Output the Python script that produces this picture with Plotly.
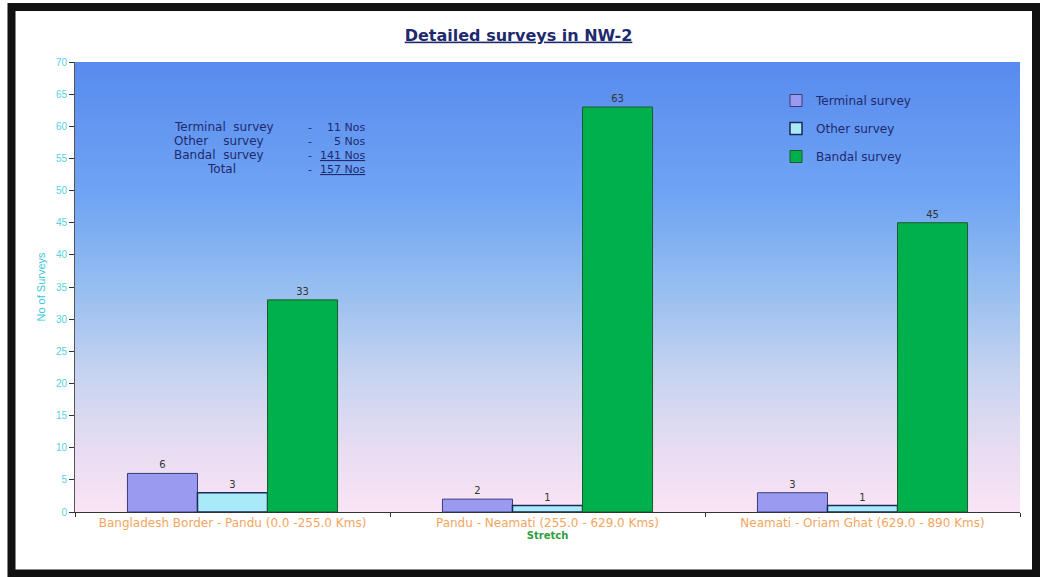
import base64
import struct
import zlib

import plotly.graph_objects as go

# ---------------- data ----------------
stretches = [
    "Bangladesh Border - Pandu (0.0 -255.0 Kms)",
    "Pandu - Neamati (255.0 - 629.0 Kms)",
    "Neamati - Oriam Ghat (629.0 - 890 Kms)",
]
terminal_survey = [6, 2, 3]
other_survey = [3, 1, 1]
bandal_survey = [33, 63, 45]
series_names = ["Terminal survey", "Other survey", "Bandal survey"]

summary_labels = ["Terminal  survey", "Other    survey", "Bandal  survey", "Total"]
summary_values = ["11 Nos", "5 Nos", "<u>141 Nos</u>", "<u>157 Nos</u>"]

title_text = "<b><u>Detailed surveys in NW-2</u></b>"
y_title = "No of Surveys"
x_title = "<b>Stretch</b>"
y_ticks = list(range(0, 75, 5))

# ---------------- styles ----------------
FONT = "DejaVu Sans, Verdana, sans-serif"
FONT_SMALL = "Arial, Liberation Sans, sans-serif"
NAVY = "#1f2a6e"
W, H = 1047, 577
L, R, T, B = 75, 27, 62, 65
PW, PH = W - L - R, H - T - B


def px_x(px):
    return (px - L) / PW


def px_y(py):
    return (H - B - py) / PH


# vertical gradient for plot background (top -> bottom)
stops = [
    (0.00, (88, 139, 238)),
    (0.30, (112, 165, 244)),
    (0.50, (150, 190, 240)),
    (0.70, (200, 212, 240)),
    (0.85, (230, 220, 242)),
    (1.00, (250, 228, 244)),
]


def grad_color(t):
    for (t0, c0), (t1, c1) in zip(stops[:-1], stops[1:]):
        if t0 <= t <= t1:
            f = (t - t0) / (t1 - t0) if t1 > t0 else 0
            return tuple(int(round(a + (b - a) * f)) for a, b in zip(c0, c1))
    return stops[-1][1]


def make_png(rows, width=2):
    raw = b"".join(b"\x00" + bytes(c) * width for c in rows)

    def chunk(tag, data):
        return (struct.pack(">I", len(data)) + tag + data
                + struct.pack(">I", zlib.crc32(tag + data) & 0xFFFFFFFF))

    ihdr = struct.pack(">IIBBBBB", width, len(rows), 8, 2, 0, 0, 0)
    return (b"\x89PNG\r\n\x1a\n" + chunk(b"IHDR", ihdr)
            + chunk(b"IDAT", zlib.compress(raw)) + chunk(b"IEND", b""))


n_rows = 256
png = make_png([grad_color(i / (n_rows - 1)) for i in range(n_rows)])
bg_uri = "data:image/png;base64," + base64.b64encode(png).decode()

fig = go.Figure()
bar_styles = [
    dict(color="#9a9af0", line=dict(color="#3a3a7a", width=1)),
    dict(color="#a8eaf7", line=dict(color="#1a2a5a", width=1.5)),
    dict(color="#00b04c", line=dict(color="#1d5a2c", width=1)),
]
for name, vals, style in zip(series_names,
                             [terminal_survey, other_survey, bandal_survey],
                             bar_styles):
    fig.add_trace(go.Bar(
        x=stretches, y=vals, name=name, legendgroup=name,
        marker=style,
        text=[str(v) for v in vals], textposition="outside",
        textfont=dict(family=FONT, size=10, color="#333333"),
        cliponaxis=False,
    ))

annotations = []
line_y = [127, 141, 155, 169]
for lab, val, py in zip(summary_labels, summary_values, line_y):
    xl = 172 if lab != "Total" else 205
    annotations.append(dict(text=lab, x=px_x(xl), y=px_y(py), xref="paper", yref="paper",
                            xanchor="left", yanchor="middle", showarrow=False,
                            font=dict(family=FONT, size=12, color=NAVY)))
    annotations.append(dict(text="-", x=px_x(310), y=px_y(py), xref="paper", yref="paper",
                            xanchor="center", yanchor="middle", showarrow=False,
                            font=dict(family=FONT, size=11, color=NAVY)))
    annotations.append(dict(text=val, x=px_x(367), y=px_y(py), xref="paper", yref="paper",
                            xanchor="right", yanchor="middle", showarrow=False,
                            font=dict(family=FONT, size=11, color=NAVY)))

fig.update_layout(
    width=W, height=H,
    margin=dict(l=L, r=R, t=T, b=B),
    paper_bgcolor="white", plot_bgcolor="white",
    font=dict(family=FONT, size=10, color=NAVY),
    title=dict(text=title_text, x=px_x(543), xanchor="center", y=1 - 35 / H, yanchor="middle",
               font=dict(family=FONT, size=16, color=NAVY)),
    barmode="group", bargap=0.333, bargroupgap=0,
    showlegend=True,
    legend=dict(x=px_x(776), y=px_y(86), xanchor="left", yanchor="top",
                bgcolor="rgba(0,0,0,0)", borderwidth=0,
                font=dict(family=FONT, size=12, color=NAVY),
                tracegroupgap=9),
    xaxis=dict(
        type="category", showgrid=False, showline=True, linecolor="#333333", linewidth=1,
        ticks="outside", tickson="boundaries", ticklen=4, tickcolor="#333333",
        tickfont=dict(family=FONT, size=12, color="#f4a55e"),
        title=dict(text=x_title, font=dict(family=FONT, size=10, color="#2e9e3e"), standoff=2),
    ),
    yaxis=dict(
        range=[0, 70], tickvals=y_ticks, showgrid=False, zeroline=False,
        showline=True, linecolor="#555555", linewidth=1,
        ticks="outside", ticklen=5, tickcolor="#333333",
        tickfont=dict(family=FONT_SMALL, size=10, color="#55d2e2"),
        title=dict(text=y_title, font=dict(family=FONT_SMALL, size=11, color="#3cc8dc"), standoff=8),
    ),
    images=[dict(source=bg_uri, xref="paper", yref="paper", x=0, y=1, sizex=1, sizey=1,
                 sizing="stretch", layer="below")],
    shapes=[dict(type="rect", xref="paper", yref="paper",
                 x0=px_x(11.5), x1=px_x(1036), y0=px_y(573.5), y1=px_y(7),
                 line=dict(color="#111111", width=8), fillcolor="rgba(0,0,0,0)",
                 layer="above")],
    annotations=annotations,
)

fig.write_html(
    "out.html",
    config={"displayModeBar": False},
    post_script="document.documentElement.style.margin='0';"
                "document.body.style.margin='0';"
                "document.body.style.overflow='hidden';",
)
